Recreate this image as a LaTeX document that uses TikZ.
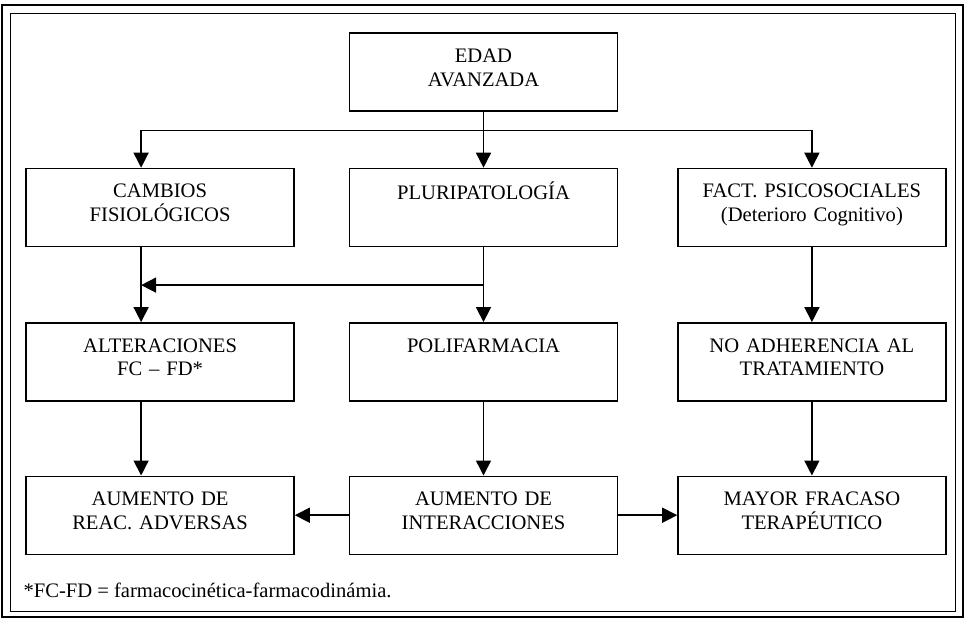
\documentclass[tikz,border=0pt]{standalone}
\usepackage{fontspec}
\setmainfont{Liberation Serif}
\usepackage{tikz}
\usetikzlibrary{positioning, arrows.meta}

\begin{document}
\begin{tikzpicture}[
  x=1pt, y=-1pt,
  font=\fontsize{20.6}{23.5}\selectfont,
  flowbox/.style={draw, line width=1.4pt, minimum width=268pt, minimum height=78pt, text width=255pt, align=center, inner sep=0pt, execute at end node={\rule[-9pt]{0pt}{0pt}}},
  flowline/.style={line width=1.5pt},
  flowarrow/.style={flowline, -{Triangle[width=15pt,length=15pt]}}
]
\useasboundingbox (0,0) rectangle (965,619);
% frame
\draw[line width=2.2pt] (2,5) rectangle (963,617);
\draw[line width=0.9pt] (10,13) rectangle (955,611);

\node[flowbox] (edad) at (483.5,72) {EDAD\\AVANZADA};
\node[flowbox, below=56pt of edad] (pluri) {PLURIPATOLOGÍA\\~};
\node[flowbox, left=54pt of pluri] (cambios) {CAMBIOS\\FISIOLÓGICOS};
\node[flowbox, right=59pt of pluri] (fact) {FACT. PSICOSOCIALES\\(Deterioro Cognitivo)};
\node[flowbox, below=75pt of pluri] (poli) {POLIFARMACIA\\~};
\node[flowbox, left=54pt of poli] (alter) {ALTERACIONES\\FC -- FD*};
\node[flowbox, right=59pt of poli] (noadh) {NO ADHERENCIA AL\\TRATAMIENTO};
\node[flowbox, below=74pt of poli] (aumint) {AUMENTO DE\\INTERACCIONES};
\node[flowbox, left=54pt of aumint] (aumreac) {AUMENTO DE\\REAC. ADVERSAS};
\node[flowbox, right=59pt of aumint] (fracaso) {MAYOR FRACASO\\TERAPÉUTICO};
\node[anchor=west] (nota) at (20,590) {*FC-FD = farmacocinética-farmacodinámia.};

% left column runs off centre
\coordinate (lcol) at ([xshift=-19pt]cambios.south);
\coordinate (split) at ([yshift=-19pt]edad.south);
\coordinate (branch) at ([yshift=-38pt]pluri.south);

\draw[flowline] (edad.south) -- (split);
\draw[flowarrow] (split) -| ([xshift=-19pt]cambios.north);
\draw[flowarrow] (split) -| (fact.north);
\draw[flowarrow] (edad.south) -- (pluri.north);
\draw[flowarrow] (lcol) -- ([xshift=-19pt]alter.north);
\draw[flowarrow] (pluri.south) -- (poli.north);
\draw[flowarrow] (branch) -- (branch -| lcol);
\draw[flowarrow] (fact.south) -- (noadh.north);
\draw[flowarrow] ([xshift=-19pt]alter.south) -- ([xshift=-19pt]aumreac.north);
\draw[flowarrow] (poli.south) -- (aumint.north);
\draw[flowarrow] (noadh.south) -- (fracaso.north);
\draw[flowarrow] (aumint.west) -- (aumreac.east);
\draw[flowarrow] (aumint.east) -- (fracaso.west);
\end{tikzpicture}
\end{document}
